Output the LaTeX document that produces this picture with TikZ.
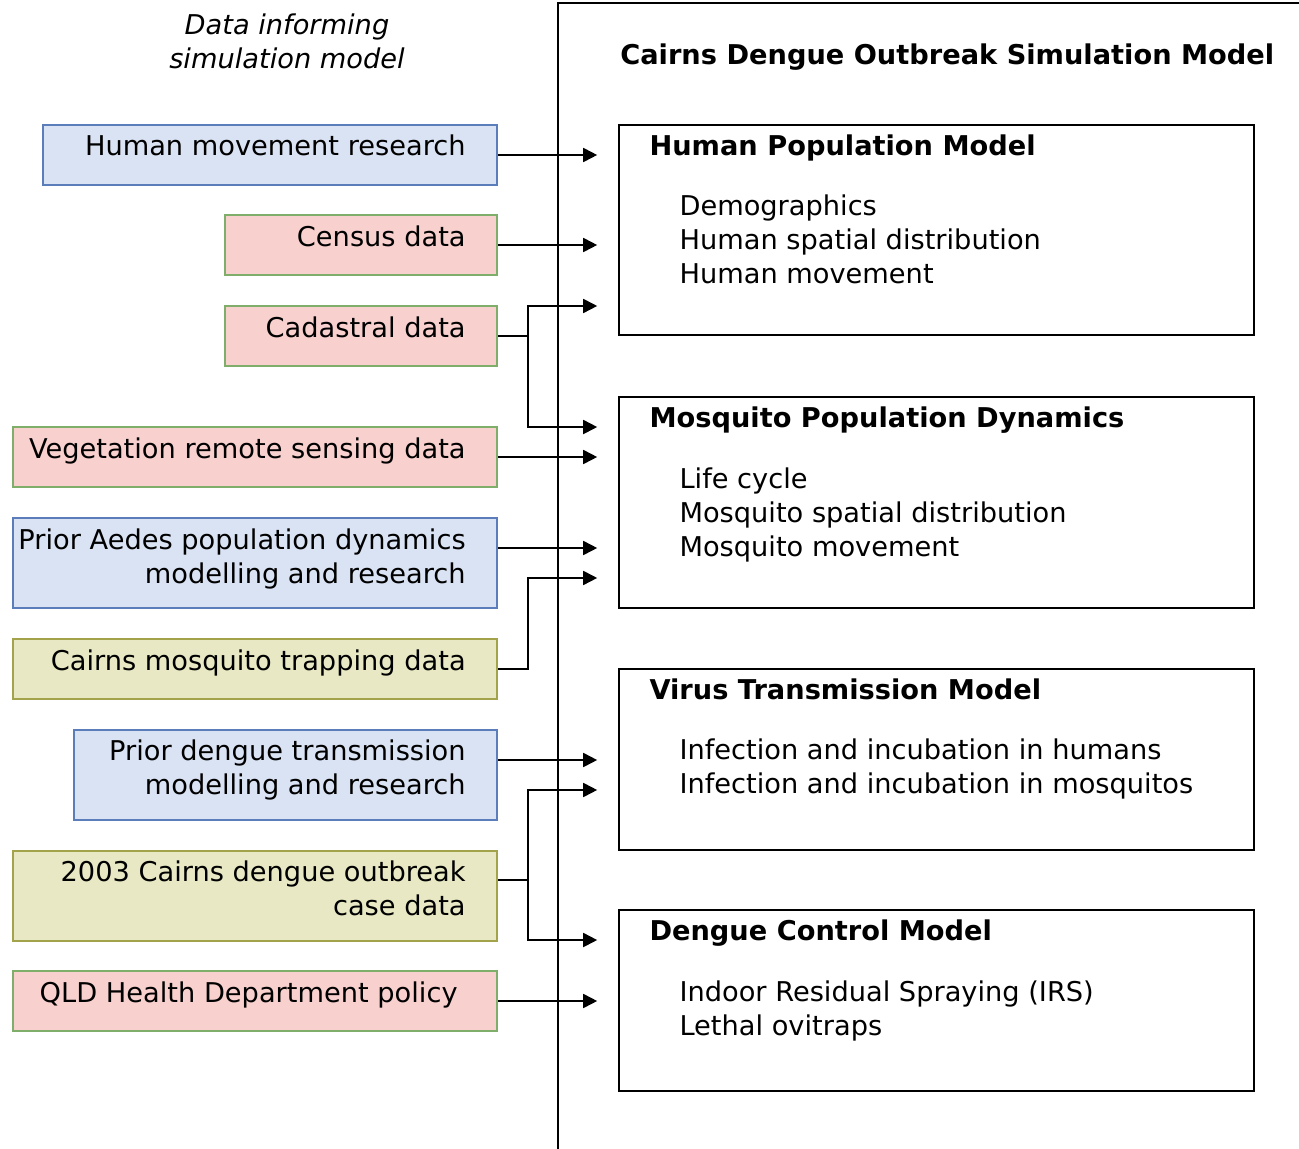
\documentclass[tikz,border=0pt]{standalone}
\usepackage{fontspec}
\setmainfont{DejaVu Sans}
\usepackage{tikz}
\usetikzlibrary{arrows.meta}
\definecolor{bluefill}{HTML}{DAE3F3}
\definecolor{blueline}{HTML}{5B7DB9}
\definecolor{redfill}{HTML}{F8D0CD}
\definecolor{redline}{HTML}{7FAE6A}
\definecolor{yelfill}{HTML}{E8E8C4}
\definecolor{yelline}{HTML}{A3A34C}

\begin{document}
\begin{tikzpicture}[x=0.02cm, y=-0.02cm, font=\fontsize{15.5}{19.3}\selectfont,
    box/.style = {draw, line width=1pt, anchor=east, minimum height=1.2cm, inner sep=0pt},
    bluebox/.style = {box, fill=bluefill, draw=blueline},
    redbox/.style = {box, fill=redfill, draw=redline},
    yelbox/.style = {box, fill=yelfill, draw=yelline},
    txt/.style = {anchor=base east, align=right, inner sep=0pt},
    model/.style = {draw, line width=1pt, minimum width=12.7cm, inner sep=0pt},
    head/.style = {anchor=base west, inner sep=0pt, font=\fontsize{15.5}{19.3}\selectfont\bfseries},
    items/.style = {anchor=base west, align=left, inner sep=0pt},
    arr/.style = {line width=1pt, -{Triangle[length=0.28cm,width=0.28cm]}, shorten >=0.42cm}]
        \useasboundingbox (0,0) rectangle (1299,1149);
        \draw[line width=1pt] (558,1149) |- (1299,3);
        \node[align=center, font=\fontsize{15.5}{19.3}\selectfont\itshape] (hd) at (287,41) {Data informing\\simulation model};
        \node[head] (ht) at (620,65) {Cairns Dengue Outbreak Simulation Model};

        \node[bluebox, minimum width=9.08cm] (d1) at (498,155) {};
        \node[txt] at ([shift={(-32,31)}]d1.north east) {Human movement research};
        \node[redbox, minimum width=5.44cm] (d2) at (498,245) {};
        \node[txt] at ([shift={(-32,32)}]d2.north east) {Census data};
        \node[redbox, minimum width=5.44cm] (d3) at (498,336) {};
        \node[txt] at ([shift={(-32,32)}]d3.north east) {Cadastral data};
        \node[redbox, minimum width=9.68cm] (d4) at (498,457) {};
        \node[txt] at ([shift={(-32,32)}]d4.north east) {Vegetation remote sensing data};
        \node[bluebox, minimum width=9.68cm, minimum height=1.8cm] (d5) at (498,563) {};
        \node[txt] at ([shift={(-32,66)}]d5.north east) {Prior Aedes population dynamics\\modelling and research};
        \node[yelbox, minimum width=9.68cm] (d6) at (498,669) {};
        \node[txt] at ([shift={(-32,32)}]d6.north east) {Cairns mosquito trapping data};
        \node[bluebox, minimum width=8.46cm, minimum height=1.8cm] (d7) at (498,775) {};
        \node[txt] at ([shift={(-32,65)}]d7.north east) {Prior dengue transmission\\modelling and research};
        \node[yelbox, minimum width=9.68cm, minimum height=1.8cm] (d8) at (498,896) {};
        \node[txt] at ([shift={(-32,65)}]d8.north east) {2003 Cairns dengue outbreak\\case data};
        \node[redbox, minimum width=9.68cm] (d9) at (498,1001) {};
        \node[txt] at ([shift={(-40,32)}]d9.north east) {QLD Health Department policy};

        \node[model, minimum height=4.2cm] (m1) at (936.5,230) {};
        \node[head] at ([shift={(31,31)}]m1.north west) {Human Population Model};
        \node[items] at ([shift={(61,159)}]m1.north west) {Demographics\\Human spatial distribution\\Human movement};
        \node[model, minimum height=4.22cm] (m2) at (936.5,502.5) {};
        \node[head] at ([shift={(31,31)}]m2.north west) {Mosquito Population Dynamics};
        \node[items] at ([shift={(61,160)}]m2.north west) {Life cycle\\Mosquito spatial distribution\\Mosquito movement};
        \node[model, minimum height=3.62cm] (m3) at (936.5,759.5) {};
        \node[head] at ([shift={(31,31)}]m3.north west) {Virus Transmission Model};
        \node[items] at ([shift={(61,125)}]m3.north west) {Infection and incubation in humans\\Infection and incubation in mosquitos};
        \node[model, minimum height=3.62cm] (m4) at (936.5,1000.5) {};
        \node[head] at ([shift={(31,31)}]m4.north west) {Dengue Control Model};
        \node[items] at ([shift={(61,126)}]m4.north west) {Indoor Residual Spraying (IRS)\\Lethal ovitraps};

        \draw[arr] (d1) -- (d1 -| m1.west);
        \draw[arr] (d2) -- (d2 -| m1.west);
        \draw[arr] (d3.east) -- ++(30,0) |- ([yshift=-1.52cm]m1.west);
        \draw[arr] (d3.east) -- ++(30,0) |- ([yshift=1.51cm]m2.west);
        \draw[arr] (d4) -- (d4 -| m2.west);
        \draw[arr] ([yshift=0.3cm]d5.east) -- ([yshift=0.3cm]d5.east -| m2.west);
        \draw[arr] (d6.east) -- ++(30,0) |- ([yshift=-1.51cm]m2.west);
        \draw[arr] ([yshift=0.3cm]d7.east) -- ([yshift=0.3cm]d7.east -| m3.west);
        \draw[arr] ([yshift=0.32cm]d8.east) -- ++(30,0) |- ([yshift=-0.61cm]m3.west);
        \draw[arr] ([yshift=0.32cm]d8.east) -- ++(30,0) |- ([yshift=1.21cm]m4.west);
        \draw[arr] (d9) -- (d9 -| m4.west);
\end{tikzpicture}
\end{document}
